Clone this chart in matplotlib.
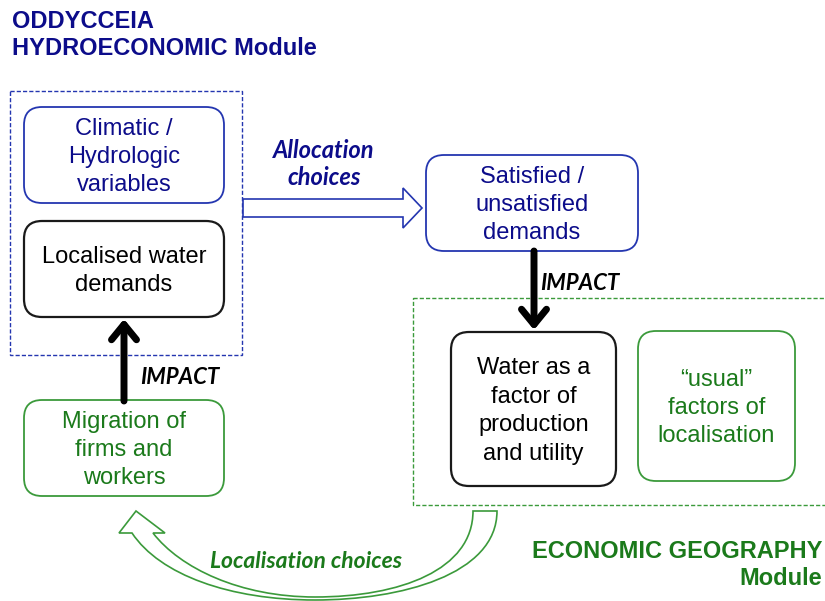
import matplotlib
matplotlib.use("Agg")
import matplotlib.pyplot as plt
from matplotlib.patches import FancyBboxPatch, Rectangle, FancyArrowPatch, PathPatch, ArrowStyle
from matplotlib.path import Path

# ---- content ----
title_lines = ["ODDYCCEIA", "HYDROECONOMIC Module"]
econ_lines = ["ECONOMIC GEOGRAPHY", "Module"]
box_labels = ["Climatic /\nHydrologic\nvariables",
              "Localised water\ndemands",
              "Satisfied /\nunsatisfied\ndemands",
              "Water as a\nfactor of\nproduction\nand utility",
              "\u201cusual\u201d\nfactors of\nlocalisation",
              "Migration of\nfirms and\nworkers"]
box_kinds = ["blue", "black", "blue", "black", "green", "green"]
arrow_labels = ["Allocation\nchoices", "IMPACT", "IMPACT", "Localisation choices"]

# ---- styling / layout ----
NAVY = "#0c0c8a"
BLUE_EDGE = "#2436b0"
GREEN_TXT = "#1b7a1b"
GREEN_EDGE = "#3b9a3b"
BLACK_EDGE = "#1a1a1a"
edge = {"blue": BLUE_EDGE, "black": BLACK_EDGE, "green": GREEN_EDGE}
txtc = {"blue": NAVY, "black": "black", "green": GREEN_TXT}
elw = {"blue": 1.3, "black": 1.6, "green": 1.3}
box_rects = [(24, 107, 200, 96), (24, 221, 200, 96), (426, 155, 212, 96),
             (451, 332, 165, 154), (638, 331, 157, 150), (24, 400, 200, 96)]

SANS = ["Liberation Sans", "DejaVu Sans"]
CAL = ["Lato", "Open Sans", "DejaVu Sans"]

fig = plt.figure(figsize=(8.25, 6.01), dpi=100)
ax = fig.add_axes([0, 0, 1, 1])
ax.set_xlim(0, 825)
ax.set_ylim(601, 0)
ax.axis("off")

# Titles
ax.text(12, 10, "\n".join(title_lines), ha="left", va="top", fontsize=17,
        fontweight="bold", color=NAVY, family=SANS, linespacing=1.22)
ax.text(822, 540, "\n".join(econ_lines), ha="right", va="top", fontsize=17,
        fontweight="bold", color=GREEN_TXT, family=SANS, linespacing=1.22, multialignment="right")

# Dashed module frames
ax.add_patch(Rectangle((10, 91), 232, 264, fill=False, ec=BLUE_EDGE, lw=1.0, ls=(0, (3, 1.5))))
ax.add_patch(Rectangle((413, 298), 420, 207, fill=False, ec=GREEN_EDGE, lw=1.0, ls=(0, (3, 1.5))))

# Boxes
for (x, y, w, h), lab, kind in zip(box_rects, box_labels, box_kinds):
    ax.add_patch(FancyBboxPatch((x, y), w, h, boxstyle="round,pad=0,rounding_size=18",
                                fc="white", ec=edge[kind], lw=elw[kind]))
    ax.text(x + w / 2, y + h / 2 + 2, lab, ha="center", va="center", fontsize=17,
            color=txtc[kind], family=SANS, linespacing=1.38)

# Hollow allocation arrow
alloc = [(243, 199), (403, 199), (403, 188), (422, 208), (403, 228), (403, 217), (243, 217), (243, 199)]
ax.add_patch(PathPatch(Path(alloc, [Path.MOVETO] + [Path.LINETO] * 6 + [Path.CLOSEPOLY]),
                       fc="white", ec=BLUE_EDGE, lw=1.2))
ax.text(324, 164, arrow_labels[0], ha="center", va="center", fontsize=17,
        fontweight="bold", style="italic", color=NAVY, family=CAL, linespacing=1.2)

# Thick impact arrows
st = ArrowStyle("->", head_length=11, head_width=9)
ax.add_patch(FancyArrowPatch((534, 251), (534, 330), arrowstyle=st, mutation_scale=1,
                             lw=5.0, color="black", shrinkA=0, shrinkB=0,
                             capstyle="round", joinstyle="round"))
ax.add_patch(FancyArrowPatch((124, 401), (124, 319), arrowstyle=st, mutation_scale=1,
                             lw=5.0, color="black", shrinkA=0, shrinkB=0,
                             capstyle="round", joinstyle="round"))
ax.text(540, 284, arrow_labels[1], ha="left", va="center", fontsize=16,
        fontweight="bold", style="italic", color="black", family=CAL)
ax.text(140, 377, arrow_labels[2], ha="left", va="center", fontsize=16,
        fontweight="bold", style="italic", color="black", family=CAL)

# Curved hollow localisation arrow
verts = [
    (497, 511),
    (497, 575), (400, 600), (315, 600),
    (230, 600), (160, 575), (132, 533),
    (119, 533), (136, 511), (165, 533), (153, 533),
    (180, 568), (240, 597), (315, 597),
    (400, 597), (473, 570), (473, 511),
    (497, 511),
]
codes = ([Path.MOVETO] + [Path.CURVE4] * 6 + [Path.LINETO] * 4 +
         [Path.CURVE4] * 6 + [Path.CLOSEPOLY])
ax.add_patch(PathPatch(Path(verts, codes), fc="white", ec=GREEN_EDGE, lw=1.2))
ax.text(306, 561, arrow_labels[3], ha="center", va="center", fontsize=16.5,
        fontweight="bold", style="italic", color=GREEN_TXT, family=CAL)

fig.savefig("out.png", dpi=100)
